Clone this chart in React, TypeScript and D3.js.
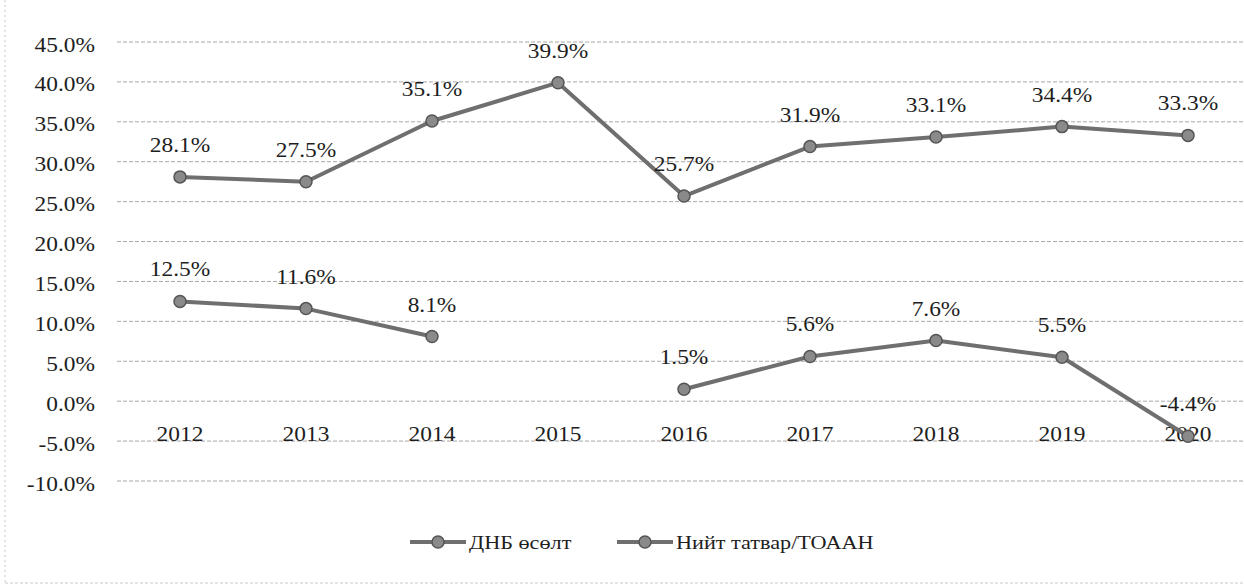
import React from "react";
import * as d3 from "d3";

const years = ["2012", "2013", "2014", "2015", "2016", "2017", "2018", "2019", "2020"];
const gdpGrowth: (number | null)[] = [12.5, 11.6, 8.1, null, 1.5, 5.6, 7.6, 5.5, -4.4];
const taxRatio: (number | null)[] = [28.1, 27.5, 35.1, 39.9, 25.7, 31.9, 33.1, 34.4, 33.3];
const yTicks = [-10, -5, 0, 5, 10, 15, 20, 25, 30, 35, 40, 45];
const seriesNames = ["ДНБ өсөлт", "Нийт татвар/ТОААН"];

const W = 1244;
const H = 585;
const FONT = "'Liberation Serif', 'Times New Roman', serif";
const SX = 1.17;

function SText({ x, y, anchor, size, children }: any) {
  return (
    <text
      transform={`translate(${x},${y}) scale(${SX},1)`}
      textAnchor={anchor}
      fontFamily={FONT}
      fontSize={size}
      fill="#1e1e1e"
    >
      {children}
    </text>
  );
}

export default function App() {
  const x = d3.scalePoint<string>().domain(years).range([117, 1251]).padding(0.5);
  const y = d3.scaleLinear().domain([-10, 45]).range([481, 42]);
  const line = d3
    .line<number | null>()
    .defined((d) => d != null)
    .x((_, i) => x(years[i]) as number)
    .y((d) => y(d as number));

  const lineColor = "#6f6f6f";
  const markerFill = "#8a8a8a";
  const markerStroke = "#555";

  const series = [taxRatio, gdpGrowth];

  const legendItems = [
    { name: seriesNames[0], x0: 410 },
    { name: seriesNames[1], x0: 617 },
  ];

  return (
    <svg
      width={W}
      height={H}
      style={{ position: "absolute", left: 0, top: 0, background: "#fff" }}
    >
      <rect x={0} y={0} width={W} height={H} fill="#fff" />
      {/* frame */}
      <line x1={5} x2={5} y1={0} y2={583} stroke="#c8c8c8" strokeDasharray="2,3" />
      <line x1={5} x2={W} y1={583} y2={583} stroke="#c8c8c8" strokeDasharray="3,2" />
      {/* gridlines */}
      {yTicks.map((t) => (
        <line
          key={t}
          x1={117}
          x2={1244}
          y1={y(t)}
          y2={y(t)}
          stroke="#a8a8a8"
          strokeWidth={1}
          strokeDasharray="4,2"
        />
      ))}
      {/* y axis labels */}
      {yTicks.map((t) => (
        <SText key={t} x={95} y={y(t) + 9.5} anchor="end" size={20}>
          {t.toFixed(1) + "%"}
        </SText>
      ))}
      {/* category labels */}
      {years.map((yr) => (
        <SText key={yr} x={x(yr) as number} y={441} anchor="middle" size={20}>
          {yr}
        </SText>
      ))}
      {/* lines */}
      {series.map((s, si) => (
        <g key={si}>
          <path d={line(s) || ""} fill="none" stroke={lineColor} strokeWidth={4} strokeLinejoin="round" />
          {s.map((v, i) =>
            v == null ? null : (
              <circle
                key={i}
                cx={x(years[i]) as number}
                cy={y(v)}
                r={6}
                fill={markerFill}
                stroke={markerStroke}
                strokeWidth={1.5}
              />
            )
          )}
        </g>
      ))}
      {/* data labels */}
      {series.map((s, si) =>
        s.map((v, i) =>
          v == null ? null : (
            <SText key={`${si}-${i}`} x={x(years[i]) as number} y={y(v) - 25} anchor="middle" size={20}>
              {v.toFixed(1) + "%"}
            </SText>
          )
        )
      )}
      {/* legend */}
      {legendItems.map((it, i) => (
        <g key={i}>
          <line x1={it.x0} x2={it.x0 + 56} y1={542} y2={542} stroke={lineColor} strokeWidth={4} />
          <circle cx={it.x0 + 28} cy={542} r={6} fill={markerFill} stroke={markerStroke} strokeWidth={1.5} />
          <SText x={it.x0 + 59} y={549} anchor="start" size={19}>
            {it.name}
          </SText>
        </g>
      ))}
    </svg>
  );
}
